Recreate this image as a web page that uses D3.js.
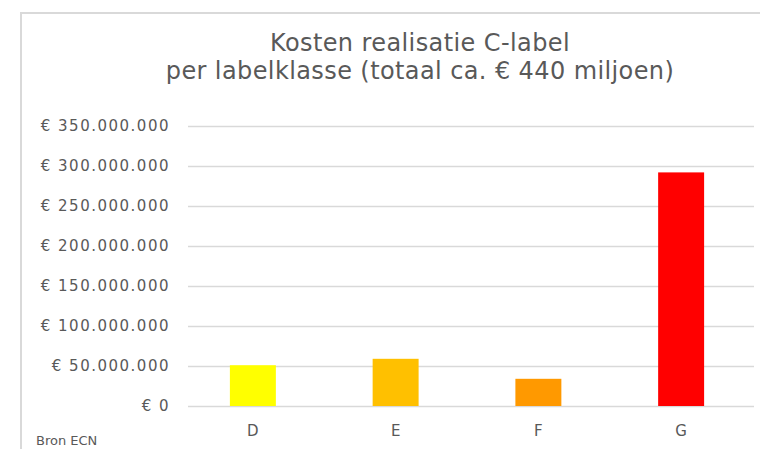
<!DOCTYPE html>
<html>
<head>
<meta charset="utf-8">
<script src="https://cdn.jsdelivr.net/npm/d3@7"></script>
<style>
    body { margin: 0; background: #fff; }
    #chart-area { width: 760px; height: 449px; }
    text { font-family: "DejaVu Sans", sans-serif; fill: #595959; }
</style>
</head>
<body>
<div id="chart-area"></div>
<script>

// data
const categories = ["D", "E", "F", "G"];
const costs = [51000000, 59000000, 34000000, 292000000];
const barColors = ["#ffff00", "#ffc000", "#ff9900", "#ff0000"];
const yTicks = [0, 50000000, 100000000, 150000000, 200000000, 250000000, 300000000, 350000000];
const titleLines = ["Kosten realisatie C-label", "per labelklasse (totaal ca. € 440 miljoen)"];
const sourceNote = "Bron ECN";


/* * * * * * * * * * * * * * * * * *
 *        class CostBarchart       *
 * * * * * * * * * * * * * * * * * */

class CostBarchart {

    constructor(parentElement) {
        this.parentElement = parentElement;
        this.data = categories.map((c, i) => ({label: c, value: costs[i], color: barColors[i]}));

        this.initVis();
    }

    initVis() {
        let vis = this;

        vis.width = 760;
        vis.height = 449;

        vis.svg = d3.select("#" + vis.parentElement).append("svg")
            .attr("width", vis.width)
            .attr("height", vis.height);

        // chart frame (runs off the right and bottom edge)
        vis.svg.append("rect")
            .attr("x", 21)
            .attr("y", 13)
            .attr("width", 800)
            .attr("height", 500)
            .attr("fill", "none")
            .attr("stroke", "#d9d9d9")
            .attr("stroke-width", 2);

        // title
        vis.svg.append("text")
            .attr("text-anchor", "middle")
            .style("font-size", "24px")
            .style("letter-spacing", "0.4px")
            .selectAll("tspan")
            .data(titleLines)
            .enter()
            .append("tspan")
            .attr("x", 420)
            .attr("y", (d, i) => 51 + i * 28)
            .text((d) => d);

        // source
        vis.svg.append("text")
            .attr("x", 36)
            .attr("y", 445)
            .style("font-size", "13px")
            .text(sourceNote);

        // scales
        vis.gridLeft = 188;
        vis.gridRight = 754;

        vis.x = d3.scaleBand()
            .range([181.5, 752.5])
            .paddingInner(0.678)
            .paddingOuter(0.339);
        vis.y = d3.scaleLinear()
            .range([406, 126]);

        vis.nl = d3.formatLocale({decimal: ",", thousands: ".", grouping: [3], currency: ["€ ", ""]});

        vis.wrangleData();
    }

    wrangleData() {
        let vis = this;
        vis.updateVis();
    }

    updateVis() {
        let vis = this;

        vis.x.domain(vis.data.map((d) => d.label));
        vis.y.domain([0, d3.max(yTicks)]);

        // y axis + gridlines
        let yAxis = d3.axisLeft(vis.y)
            .tickValues(yTicks)
            .tickSize(-(vis.gridRight - vis.gridLeft))
            .tickPadding(18)
            .tickFormat(vis.nl.format("$,.0f"));

        let yG = vis.svg.append("g")
            .attr("transform", `translate(${vis.gridLeft}, 0)`)
            .call(yAxis);
        yG.select(".domain").remove();
        yG.selectAll(".tick line")
            .attr("stroke", "#d9d9d9")
            .attr("stroke-width", 1.5);
        yG.selectAll(".tick text")
            .style("font-size", "15px")
            .style("letter-spacing", "1.5px")
            .attr("fill", "#595959");

        // bars
        vis.svg.selectAll("rect.bar")
            .data(vis.data)
            .enter()
            .append("rect")
            .classed("bar", true)
            .attr("x", (d) => vis.x(d.label))
            .attr("y", (d) => vis.y(d.value))
            .attr("width", vis.x.bandwidth())
            .attr("height", (d) => vis.y(0) - vis.y(d.value))
            .style("fill", (d) => d.color);

        // x axis labels
        let xG = vis.svg.append("g")
            .attr("transform", `translate(0, ${vis.y(0)})`)
            .call(d3.axisBottom(vis.x).tickSize(0).tickPadding(19));
        xG.select(".domain").remove();
        xG.selectAll(".tick text")
            .style("font-size", "15px")
            .attr("fill", "#595959");
    }
}

new CostBarchart("chart-area");
</script>
</body>
</html>
